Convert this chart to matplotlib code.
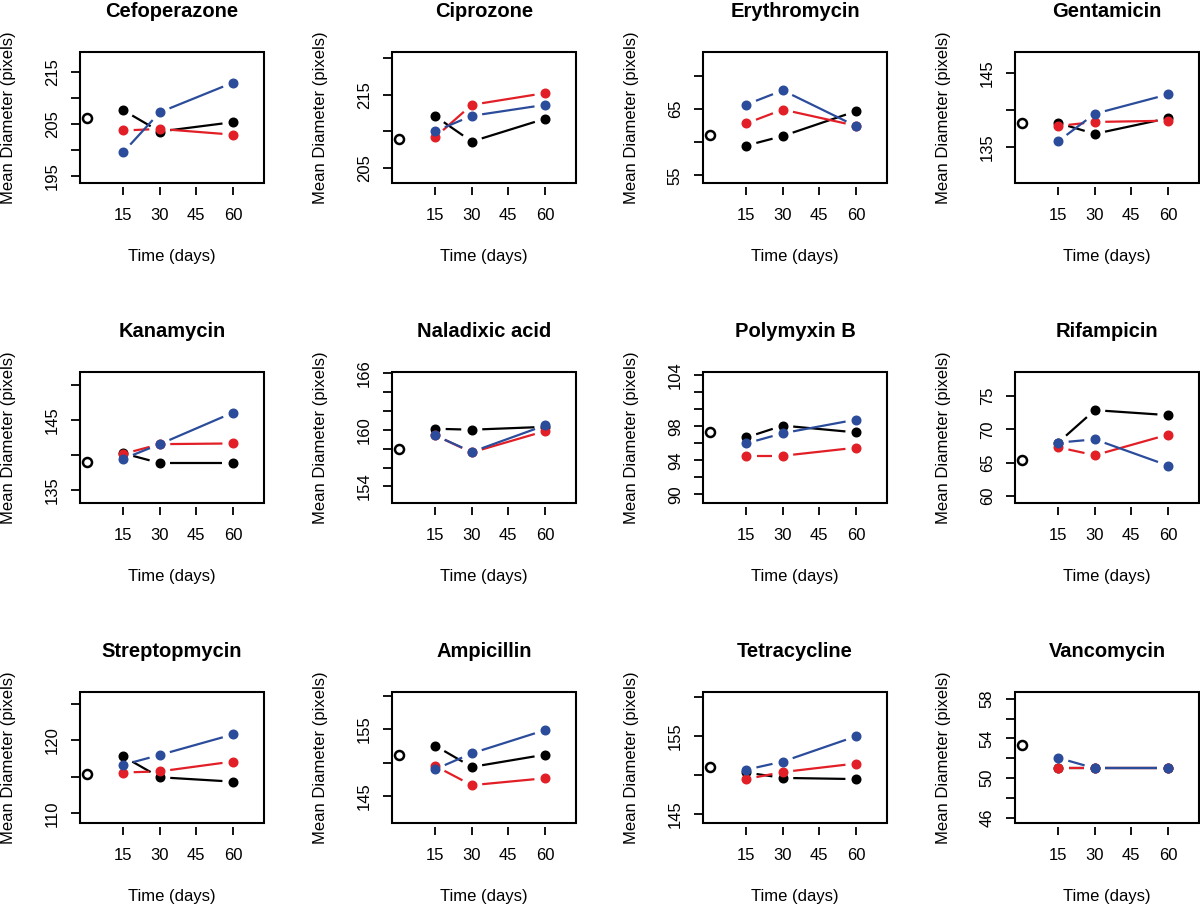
import numpy as np
import matplotlib
matplotlib.use('Agg')
import matplotlib.pyplot as plt
from matplotlib.patches import Rectangle

plt.rcParams['font.family'] = ['Liberation Sans', 'DejaVu Sans']

# ---- data ----
drugs = ['Cefoperazone', 'Ciprozone', 'Erythromycin', 'Gentamicin',
         'Kanamycin', 'Naladixic acid', 'Polymyxin B', 'Rifampicin',
         'Streptopmycin', 'Ampicillin', 'Tetracycline', 'Vancomycin']

day_labels = ['15', '30', '45', '60']
day_pos = [1, 2, 4]          # 15, 30, 60 days (45 has no data)

baseline = [206.1, 208.95, 61.05, 138.2, 139.0, 158.0,
            97.4, 65.4, 115.45, 151.2, 151.0, 53.3]

black = [[207.6, 203.5, 205.3], [212.05, 208.6, 211.7], [59.5, 60.95, 64.7],
         [138.26, 136.8, 138.9], [140.3, 138.9, 138.9], [160.1, 160.0, 160.3],
         [96.7, 98.1, 97.3], [68.0, 72.9, 72.15], [117.8, 114.95, 114.35],
         [152.55, 149.35, 151.2], [150.35, 149.65, 149.5], [51.0, 51.0, 51.0]]

red = [[203.7, 204.0, 202.9], [209.2, 213.6, 215.2], [62.85, 64.95, 62.5],
       [137.86, 138.4, 138.57], [140.2, 141.6, 141.7], [159.4, 157.6, 159.85],
       [94.55, 94.55, 95.5], [67.3, 66.1, 69.2], [115.6, 115.75, 117.1],
       [149.5, 146.6, 147.65], [149.5, 150.4, 151.5], [51.0, 51.0, 51.0]]

blue = [[199.5, 207.2, 212.9], [210.0, 212.1, 213.6], [65.7, 67.85, 62.45],
        [135.8, 139.5, 142.1], [139.5, 141.6, 146.1], [159.4, 157.65, 160.45],
        [96.0, 97.2, 98.8], [68.0, 68.5, 64.55], [116.65, 118.0, 120.8],
        [149.0, 151.4, 154.9], [150.7, 151.75, 155.0], [52.05, 51.0, 51.0]]

# y axis settings per panel
ylims = [(193.6, 218.8), (202.95, 220.8), (53.85, 73.65), (130.2, 147.8),
         (133.2, 151.9), (152.25, 166.1), (89.0, 104.4), (58.9, 78.65),
         (108.7, 126.6), (140.9, 160.65), (143.85, 160.7), (45.5, 58.67)]
yticks = [[195, 200, 205, 210, 215], [205, 210, 215, 220], [55, 60, 65, 70],
          [135, 140, 145], [135, 140, 145, 150], [154, 156, 158, 160, 162, 164, 166],
          [90, 92, 94, 96, 98, 100, 102, 104], [60, 65, 70, 75],
          [110, 115, 120, 125], [145, 150, 155, 160], [145, 150, 155, 160],
          [46, 48, 50, 52, 54, 56, 58]]
ylabels_shown = [[195, 205, 215], [205, 215], [55, 65], [135, 145],
                 [135, 145], [154, 160, 166], [90, 94, 98, 104],
                 [60, 65, 70, 75], [110, 120], [145, 155], [145, 155],
                 [46, 50, 54, 58]]

RED = '#E21F26'
BLUE = '#2B4C9B'

W, H = 1200, 906
fig = plt.figure(figsize=(W / 100, H / 100), dpi=100)

col_left = [80, 392, 703, 1015]
row_top = [52, 372, 692]
bw, bh = 184, 131
XLIM = (-0.18, 4.85)


def line_b(ax, xs, ys, color, ylim, gap=10.5):
    # R type="b": points joined by lines that stop short of each point
    sx = bw / (XLIM[1] - XLIM[0])        # pixels per x unit
    sy = bh / (ylim[1] - ylim[0])        # pixels per y unit
    for i in range(len(xs) - 1):
        dx = (xs[i + 1] - xs[i]) * sx
        dy = (ys[i + 1] - ys[i]) * sy
        L = np.hypot(dx, dy)
        if L <= 2 * gap:
            continue
        ux, uy = dx / L * gap / sx, dy / L * gap / sy
        ax.plot([xs[i] + ux, xs[i + 1] - ux], [ys[i] + uy, ys[i + 1] - uy],
                color=color, lw=1.6, solid_capstyle='butt', zorder=2)
    ax.plot(xs, ys, 'o', color=color, ms=6.2, mec=color, zorder=3)


for k, name in enumerate(drugs):
    r, c = divmod(k, 4)
    left = col_left[c] / W
    bottom = 1 - (row_top[r] + bh) / H
    ax = fig.add_axes([left, bottom, bw / W, bh / H])
    ax.set_xlim(*XLIM)
    ax.set_ylim(*ylims[k])

    for s in ['top', 'right', 'left']:
        ax.spines[s].set_visible(False)
    ax.spines['bottom'].set_position(('outward', 3))
    ax.spines['bottom'].set_color('none')
    ax.add_patch(Rectangle((0, 0), 1, 1, transform=ax.transAxes, fill=False,
                           lw=1.5, ec='black', clip_on=False, zorder=5))

    ax.set_xticks([1, 2, 3, 4])
    ax.set_xticklabels(day_labels, fontsize=12)
    ax.tick_params(axis='x', direction='out', length=6, width=1.3, pad=9)

    ax.set_yticks(yticks[k])
    ax.set_yticklabels([str(v) if v in ylabels_shown[k] else '' for v in yticks[k]],
                       fontsize=12, rotation=90, va='center', ha='right')
    ax.tick_params(axis='y', direction='out', length=6.5, width=1.3, pad=8)

    ax.plot([0], [baseline[k]], 'o', ms=6.5, mfc='white', mec='black', mew=1.8,
            zorder=3)
    line_b(ax, day_pos, black[k], 'black', ylims[k])
    line_b(ax, day_pos, red[k], RED, ylims[k])
    line_b(ax, day_pos, blue[k], BLUE, ylims[k])

    ax.text(0.5, 1.308, name, transform=ax.transAxes, ha='center', va='center',
            fontsize=14.5, fontweight='bold')
    ax.text(0.5, -0.563, 'Time (days)', transform=ax.transAxes, ha='center',
            va='center', fontsize=12)
    ax.text(-0.388, 0.5, 'Mean Diameter (pixels)', transform=ax.transAxes,
            ha='center', va='center', rotation=90, fontsize=12)

fig.savefig('out.png', dpi=100)
